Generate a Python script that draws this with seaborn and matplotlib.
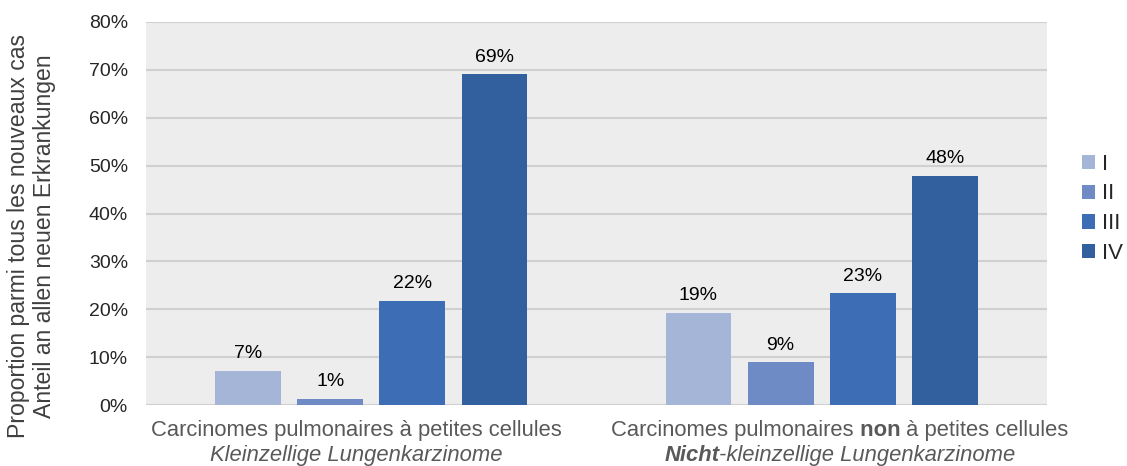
import matplotlib
matplotlib.use("Agg")
import matplotlib.pyplot as plt
import seaborn as sns
import pandas as pd
from matplotlib.offsetbox import TextArea, HPacker, VPacker, AnnotationBbox

# Share of new cases by stage, per histological group (percent)
categories = ["SCLC", "NSCLC"]
stages = ["I", "II", "III", "IV"]
sclc_values = [7.2, 1.3, 21.8, 69.1]
nsclc_values = [19.3, 8.9, 23.4, 47.9]
y_ticks = [0, 10, 20, 30, 40, 50, 60, 70, 80]
stage_colors = ["#A5B5D8", "#6F8BC6", "#3D6EB5", "#32609E"]

rows = []
for cat, vals in zip(categories, [sclc_values, nsclc_values]):
    for st, v in zip(stages, vals):
        rows.append({"category": cat, "stage": st, "value": v})
df = pd.DataFrame(rows)

sns.set_theme(style="white")
plt.rcParams["font.family"] = ["Liberation Sans", "DejaVu Sans"]

fig = plt.figure(figsize=(11.27, 4.66), dpi=100)
ax = fig.add_axes([146 / 1127, 1 - 405 / 466, (1047 - 146) / 1127, (405 - 22) / 466])
ax.set_facecolor("#EDEDED")

sns.barplot(data=df, x="category", y="value", hue="stage", order=categories,
            hue_order=stages, palette=stage_colors, width=0.73, gap=0.2,
            saturation=1, ax=ax, legend=True, linewidth=0)

for cont in ax.containers:
    ax.bar_label(cont, labels=[f"{v:.0f}%" for v in cont.datavalues],
                 padding=6, fontsize=14, color="black")

ax.set_xlim(-0.5, 1.5)
ax.set_ylim(0, 80)
ax.set_yticks(y_ticks)
ax.set_yticklabels([f"{t}%" for t in y_ticks], fontsize=14, color="#262626")
ax.tick_params(axis="y", length=0, pad=13)
ax.set_xticks([])
ax.set_xlabel("")
ax.set_ylabel("")
for s in ax.spines.values():
    s.set_visible(False)
ax.yaxis.grid(True, color="#D0D0D0", linewidth=1.5)
ax.set_axisbelow(True)

# Two-line category labels with mixed weight / style
lab_color = "#595959"
fs = 15.8


def piece(text, **kw):
    props = dict(fontsize=fs, color=lab_color, family="Liberation Sans")
    props.update(kw)
    return TextArea(text, textprops=props)


label_parts = [
    ([("Carcinomes pulmonaires à petites cellules", {})],
     [("Kleinzellige Lungenkarzinome", {"style": "italic"})]),
    ([("Carcinomes pulmonaires", {}), (" non", {"weight": "bold"}),
      (" à petites cellules", {})],
     [("Nicht", {"weight": "bold", "style": "italic"}),
      ("-kleinzellige Lungenkarzinome", {"style": "italic"})]),
]
# horizontal shift of each label block (points)
label_shift = [-11, 13]

for i, (l1, l2) in enumerate(label_parts):
    line1 = HPacker(children=[piece(t, **k) for t, k in l1], align="baseline", pad=0, sep=0)
    line2 = HPacker(children=[piece(t, **k) for t, k in l2], align="baseline", pad=0, sep=0)
    box = VPacker(children=[line1, line2], align="center", pad=0, sep=3)
    ab = AnnotationBbox(box, (i, 0), xycoords=("data", "axes fraction"),
                        xybox=(label_shift[i], -11), boxcoords="offset points",
                        box_alignment=(0.5, 1), frameon=False, annotation_clip=False)
    ax.add_artist(ab)

fig.text(31.5 / 1127, 1 - 236 / 466,
         "Proportion parmi tous les nouveaux cas\nAnteil an allen neuen Erkrankungen",
         rotation=90, ha="center", va="center", multialignment="center",
         fontsize=16.6, color="#404040", linespacing=1.2)

handles, labels = ax.get_legend_handles_labels()
ax.legend(handles, labels, loc="center left", bbox_to_anchor=((1082 - 146) / 901, 0.512),
          frameon=False, fontsize=16, handlelength=0.6, handleheight=0.6,
          handletextpad=0.3, labelspacing=0.4, borderpad=0, borderaxespad=0,
          labelcolor="#262626")

fig.savefig("out.png", dpi=100)
